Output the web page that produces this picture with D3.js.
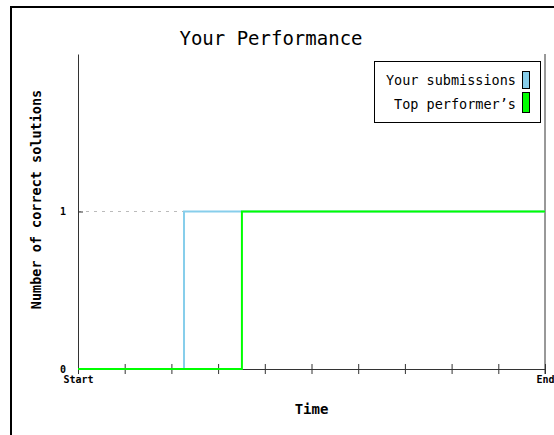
<!DOCTYPE html>
<html>
<head>
<meta charset="utf-8">
<script src="https://cdn.jsdelivr.net/npm/d3@7"></script>
<style>
  body { margin: 0; background: #fff; }
  text { font-family: "DejaVu Sans Mono", "Liberation Mono", monospace; }
</style>
</head>
<body>
<div id="chart"></div>
<script>
// Data (time axis runs 0..10 between Start and End)
const timeTicks = d3.range(0, 11);
const timeTickLabels = ["Start", "", "", "", "", "", "", "", "", "", "End"];
const yTicks = [0, 1];
const seriesNames = ["Your submissions", "Top performer’s"];
const seriesColours = ["#87ceeb", "#00ff00"];
const yourTimes = [0, 2.27, 10];
const yourValues = [0, 1, 1];
const topTimes = [0, 3.51, 10];
const topValues = [0, 1, 1];

const width = 554, height = 435;
const margin = {top: 54, right: 9, bottom: 66, left: 78};

const svg = d3.select("#chart").append("svg")
  .attr("width", width)
  .attr("height", height);

// Frame (left and top edge only)
svg.append("path")
  .attr("d", `M11,${height} V7 H${width}`)
  .attr("fill", "none")
  .attr("stroke", "#000")
  .attr("stroke-width", 2);

const x = d3.scaleLinear().domain([0, 10]).range([margin.left, width - margin.right]);
const y = d3.scaleLinear().domain([0, 2]).range([height - margin.bottom, margin.top]);

// Title
svg.append("text")
  .attr("x", 271)
  .attr("y", 45)
  .attr("text-anchor", "middle")
  .attr("font-size", 19)
  .text("Your Performance");

// Dotted guide at the top series level
svg.append("line")
  .attr("x1", x(0))
  .attr("x2", x(yourTimes[1]))
  .attr("y1", y(1))
  .attr("y2", y(1))
  .attr("stroke", "#bbb")
  .attr("stroke-dasharray", "3,5");

// Axes
const xAxis = d3.axisBottom(x)
  .tickValues(timeTicks)
  .tickSizeInner(5)
  .tickSizeOuter(0)
  .tickFormat(() => "");
const gx = svg.append("g")
  .attr("transform", `translate(0,${y(0)})`)
  .call(xAxis);
gx.select(".domain").attr("stroke", "#333");
gx.selectAll(".tick line").attr("stroke", "#333").attr("y1", -5);

gx.selectAll(".tick").append("text")
  .attr("y", 14)
  .attr("fill", "#000")
  .attr("font-size", 10)
  .attr("font-weight", "bold")
  .attr("text-anchor", "middle")
  .text((d, i) => timeTickLabels[i]);

const yAxis = d3.axisLeft(y)
  .tickValues(yTicks)
  .tickSizeInner(4)
  .tickSizeOuter(0)
  .tickFormat(d3.format("d"));
const gy = svg.append("g")
  .attr("transform", `translate(${x(0)},0)`)
  .call(yAxis);
gy.select(".domain").attr("stroke", "#333");
gy.selectAll(".tick line").attr("stroke", "#333").attr("x2", 5);
gy.selectAll(".tick text")
  .attr("x", -12)
  .attr("font-size", 10)
  .attr("font-weight", "bold")
  .attr("font-family", "DejaVu Sans Mono, monospace");

// Right edge line
svg.append("line")
  .attr("x1", x(10))
  .attr("x2", x(10))
  .attr("y1", y(2))
  .attr("y2", y(0) + 5)
  .attr("stroke", "#333");

// Axis titles
svg.append("text")
  .attr("transform", `translate(41,${(y(0) + y(2)) / 2 - 12}) rotate(-90)`)
  .attr("text-anchor", "middle")
  .attr("font-size", 13.5)
  .attr("font-weight", "bold")
  .text("Number of correct solutions");

svg.append("text")
  .attr("x", (x(0) + x(10)) / 2)
  .attr("y", 414)
  .attr("text-anchor", "middle")
  .attr("font-size", 14)
  .attr("font-weight", "bold")
  .text("Time");

// Step lines
const line = d3.line()
  .x(d => x(d[0]))
  .y(d => y(d[1]))
  .curve(d3.curveStepAfter);

const series = [
  d3.zip(yourTimes, yourValues),
  d3.zip(topTimes, topValues)
];

svg.selectAll(".series")
  .data(series)
  .join("path")
  .attr("class", "series")
  .attr("d", line)
  .attr("fill", "none")
  .attr("stroke", (d, i) => seriesColours[i])
  .attr("stroke-width", 2);

// Legend
const legend = svg.append("g").attr("class", "legend");
legend.append("rect")
  .attr("x", 374.5)
  .attr("y", 61.5)
  .attr("width", 166)
  .attr("height", 61)
  .attr("fill", "#fff")
  .attr("stroke", "#000");

seriesNames.forEach((name, i) => {
  legend.append("text")
    .attr("x", 516)
    .attr("y", 85 + i * 24)
    .attr("text-anchor", "end")
    .attr("font-size", 13.5)
    .text(name);
  legend.append("rect")
    .attr("x", 522.5)
    .attr("y", 71.5 + i * 21)
    .attr("width", 7)
    .attr("height", i === 0 ? 17 : 20)
    .attr("fill", seriesColours[i])
    .attr("stroke", "#000");
});
</script>
</body>
</html>
